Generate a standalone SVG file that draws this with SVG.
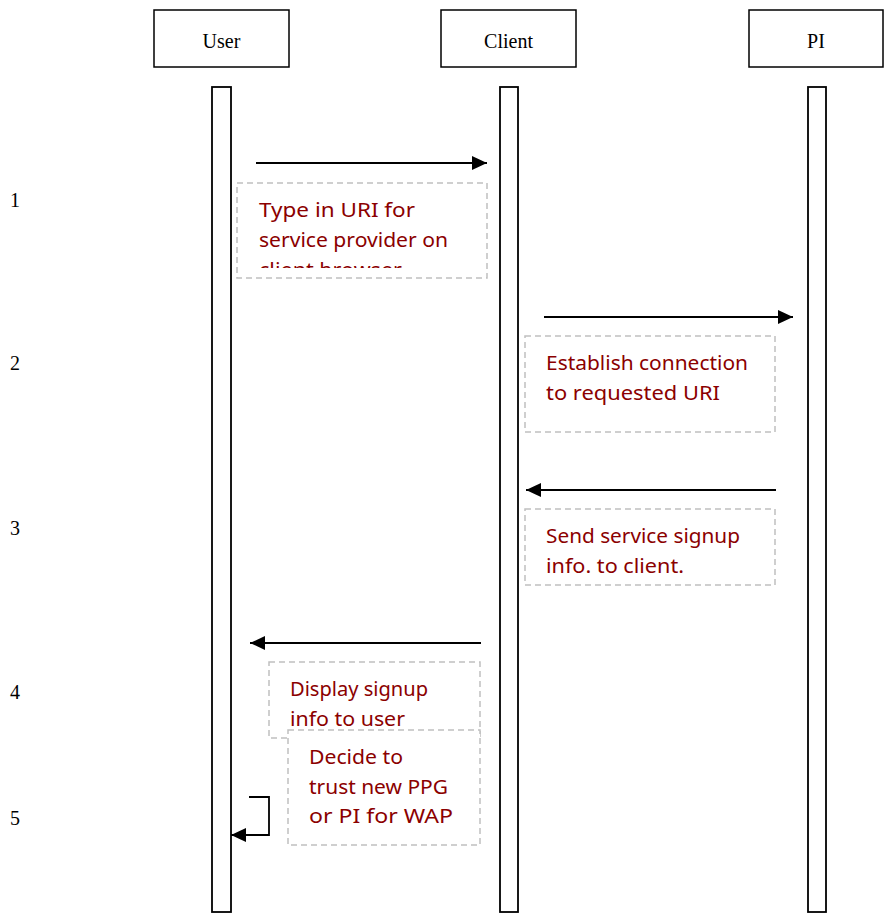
<svg xmlns="http://www.w3.org/2000/svg" width="887" height="914" viewBox="0 0 887 914">
<style>
.hdr{fill:#fff;stroke:#000;stroke-width:1.5}
.life{fill:#fff;stroke:#000;stroke-width:1.8}
.ht{font-family:"Liberation Serif",serif;font-size:20px;fill:#000;text-anchor:middle}
.num{font-family:"Liberation Serif",serif;font-size:20px;fill:#000}
.note{fill:#fff;stroke:#c0c0c0;stroke-width:1.5;stroke-dasharray:6,4}
.nt{font-family:"Noto Sans","DejaVu Sans",sans-serif;font-size:19px;fill:#8b0000}
.msg{stroke:#000;stroke-width:1.8;fill:none}
</style>
<defs>
<marker id="ah" markerWidth="15" markerHeight="14" refX="15" refY="7" orient="auto" markerUnits="userSpaceOnUse" viewBox="0 0 15 14">
<path d="M0,0 L15,7 L0,14 Z" fill="#000"/>
</marker>
<clipPath id="c1"><rect x="237" y="183" width="250" height="85"/></clipPath>
</defs>
<rect width="887" height="914" fill="#fff"/>
<g id="user">
<rect class="hdr" x="154" y="10" width="135" height="57"/>
<text class="ht" x="221.5" y="48">User</text>
<rect class="life" x="212" y="87" width="19" height="825"/>
</g>
<g id="client">
<rect class="hdr" x="441" y="10" width="135" height="57"/>
<text class="ht" x="508.5" y="48">Client</text>
<rect class="life" x="500" y="87" width="18" height="825"/>
</g>
<g id="pi">
<rect class="hdr" x="749" y="10" width="134" height="57"/>
<text class="ht" x="816" y="48">PI</text>
<rect class="life" x="808" y="87" width="18" height="825"/>
</g>
<g id="numbers">
<text class="num" x="10" y="207">1</text>
<text class="num" x="10" y="370">2</text>
<text class="num" x="10" y="535">3</text>
<text class="num" x="10" y="699">4</text>
<text class="num" x="10" y="825">5</text>
</g>
<g id="connectors">
<line class="msg" x1="256" y1="163" x2="487" y2="163" marker-end="url(#ah)"/>
<line class="msg" x1="544" y1="317" x2="793" y2="317" marker-end="url(#ah)"/>
<line class="msg" x1="776" y1="490" x2="526" y2="490" marker-end="url(#ah)"/>
<line class="msg" x1="481" y1="643" x2="250" y2="643" marker-end="url(#ah)"/>
<polyline class="msg" points="249,797 269,797 269,835 231,835" marker-end="url(#ah)"/>
</g>
<g id="note1">
<rect class="note" x="237" y="183" width="250" height="95"/>
<g clip-path="url(#c1)">
<text class="nt" x="259" y="217" textLength="156" lengthAdjust="spacingAndGlyphs">Type in URI for</text>
<text class="nt" x="259" y="247" textLength="189" lengthAdjust="spacingAndGlyphs">service provider on</text>
<text class="nt" x="259" y="277" textLength="143" lengthAdjust="spacingAndGlyphs">client browser</text>
</g>
</g>
<g id="note2">
<rect class="note" x="525" y="336" width="250" height="96"/>
<text class="nt" x="546" y="370" textLength="202" lengthAdjust="spacingAndGlyphs">Establish connection</text>
<text class="nt" x="546" y="400" textLength="174" lengthAdjust="spacingAndGlyphs">to requested URI</text>
</g>
<g id="note3">
<rect class="note" x="525" y="509" width="250" height="76"/>
<text class="nt" x="546" y="543" textLength="194" lengthAdjust="spacingAndGlyphs">Send service signup</text>
<text class="nt" x="546" y="573" textLength="138" lengthAdjust="spacingAndGlyphs">info. to client.</text>
</g>
<g id="note4">
<rect class="note" x="269" y="662" width="211" height="76"/>
<text class="nt" x="290" y="696" textLength="138" lengthAdjust="spacingAndGlyphs">Display signup</text>
<text class="nt" x="290" y="726" textLength="115" lengthAdjust="spacingAndGlyphs">info to user</text>
</g>
<g id="note5">
<rect class="note" x="288" y="730" width="192" height="115"/>
<text class="nt" x="309" y="764" textLength="94" lengthAdjust="spacingAndGlyphs">Decide to</text>
<text class="nt" x="309" y="794" textLength="139" lengthAdjust="spacingAndGlyphs">trust new PPG</text>
<text class="nt" x="309" y="823" textLength="144" lengthAdjust="spacingAndGlyphs">or PI for WAP</text>
</g>
</svg>
